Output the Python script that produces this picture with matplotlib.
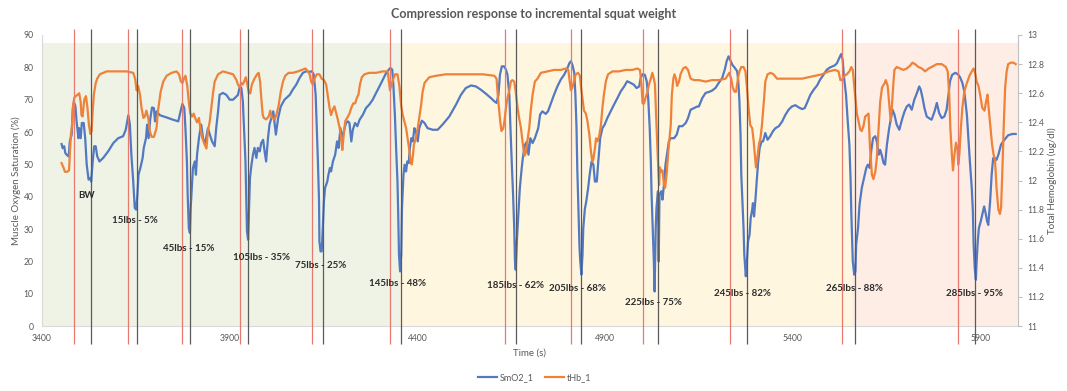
import matplotlib
matplotlib.use('Agg')
import matplotlib.pyplot as plt
import numpy as np
from matplotlib.ticker import FuncFormatter

plt.rcParams['font.family'] = ['Lato', 'DejaVu Sans']

# SmO2 (%) vs time (s)
smo2_t = [3452, 3455, 3459, 3462, 3467, 3471, 3474, 3479, 3482, 3485,
          3489, 3492, 3497, 3499, 3503, 3506, 3511, 3515, 3519, 3524,
          3528, 3531, 3535, 3539, 3543, 3547, 3553, 3563, 3576, 3590,
          3603, 3616, 3623, 3630, 3634, 3638, 3643, 3647, 3651, 3654,
          3657, 3662, 3668, 3671, 3677, 3680, 3684, 3688, 3693, 3698,
          3701, 3705, 3714, 3732, 3749, 3763, 3769, 3774, 3779, 3782,
          3786, 3788, 3791, 3794, 3796, 3799, 3802, 3807, 3810, 3813,
          3818, 3824, 3829, 3834,
          3842, 3847, 3853, 3860, 3864, 3869, 3873, 3882, 3891, 3900,
          3909, 3918, 3922, 3927, 3931, 3935, 3938, 3942, 3944, 3946,
          3949, 3951, 3954, 3958, 3962, 3966, 3971, 3975, 3980, 3984,
          3989, 3993, 3997, 4002, 4006, 4011, 4016, 4020, 4023, 4029,
          4036, 4046, 4060, 4068, 4077, 4086, 4095, 4104, 4113, 4119,
          4124, 4129, 4132, 4135, 4138, 4139, 4142, 4145, 4148, 4151,
          4154, 4160, 4163, 4167, 4170, 4175, 4181, 4186, 4190, 4195,
          4200, 4206, 4210, 4215, 4219, 4224, 4228, 4234, 4240, 4246,
          4255, 4263,
          4272, 4281, 4290, 4299, 4308, 4317, 4324, 4328, 4333, 4336,
          4340, 4343, 4347, 4349, 4351, 4354, 4357, 4359, 4363, 4366,
          4370, 4373, 4377, 4380, 4384, 4388, 4392, 4396, 4401, 4405,
          4412, 4419, 4427, 4441, 4454, 4467, 4485, 4503, 4516, 4529,
          4543, 4556, 4569, 4583, 4596, 4605, 4611, 4616, 4620, 4625,
          4631, 4636, 4640, 4645, 4648, 4652, 4655, 4658, 4660, 4662,
          4665, 4669, 4673, 4678, 4682, 4687, 4692, 4696, 4701, 4707,
          4713,
          4722, 4727, 4733, 4742, 4748, 4756, 4764, 4773, 4782, 4791,
          4800, 4805, 4809, 4813, 4818, 4821, 4824, 4826, 4829, 4832,
          4834, 4837, 4840, 4842, 4846, 4850, 4855, 4859, 4864, 4869,
          4873, 4878, 4882, 4887, 4893, 4899, 4906, 4915, 4924, 4933,
          4942, 4951, 4959, 4968, 4977, 4984, 4991, 4995, 5000, 5006,
          5011, 5015, 5019, 5022, 5024, 5027, 5030, 5032, 5035, 5037,
          5041, 5043, 5045, 5050, 5053, 5057, 5061, 5066, 5070, 5075,
          5084, 5091, 5097, 5106, 5115, 5121, 5128, 5137, 5146,
          5150, 5159, 5168, 5177, 5185, 5194, 5203, 5212, 5219, 5224,
          5229, 5233, 5239, 5246, 5252, 5255, 5258, 5261, 5263, 5266,
          5269, 5271, 5275, 5278, 5281, 5285, 5288, 5292, 5294, 5297,
          5301, 5304, 5308, 5312, 5317, 5321, 5327, 5333, 5340, 5347,
          5354, 5363, 5372, 5380, 5389, 5398, 5407, 5416, 5425, 5432,
          5438, 5447, 5456, 5465, 5473, 5482, 5491, 5500, 5512, 5518,
          5524, 5529, 5533, 5536, 5542, 5546, 5551, 5554, 5556, 5558,
          5560, 5564, 5567, 5569, 5574, 5578, 5584, 5590, 5596, 5600,
          5605, 5609, 5614, 5620, 5624, 5629, 5633, 5638, 5642, 5646,
          5651, 5657, 5662, 5666, 5671, 5677, 5684, 5691, 5698, 5704,
          5710, 5717, 5724, 5731, 5737, 5741, 5746, 5751, 5757, 5763,
          5770, 5778, 5784, 5790, 5797, 5804, 5810, 5815, 5819, 5825,
          5833, 5840, 5846, 5852, 5857, 5864, 5868, 5872, 5877, 5880,
          5882, 5885, 5888, 5890, 5893, 5896, 5901, 5905, 5910, 5914,
          5918, 5921, 5926, 5930, 5934, 5939, 5943, 5948, 5955, 5964,
          5974, 5985, 5994]
smo2 = [56.3, 55.0, 55.6, 53.5, 52.8, 52.5, 57.1, 59.2, 67.4, 69.3,
        67.9, 63.3, 58.1, 61.2, 58.1, 62.8, 62.8, 58.1, 49.9, 45.3,
        45.8, 44.7, 50.9, 55.6, 55.6, 52.5, 50.9, 52.0, 54.0, 56.6,
        58.1, 58.7, 60.7, 65.2, 62.3, 53.0, 44.7, 36.5, 36.0, 40.6,
        46.8, 48.9, 52.0, 55.1, 58.1, 62.3, 58.1, 63.8, 67.6, 67.4,
        63.3, 66.4, 65.2, 64.5, 63.8, 63.3, 66.4, 68.7, 67.4, 61.2,
        50.9, 40.6, 30.3, 28.8, 36.5, 42.7, 48.9, 50.9, 46.8, 53.0,
        58.1, 62.3, 58.1, 56.1,
        61.2, 59.2, 57.1, 55.6, 61.2, 66.4, 71.5, 72.1, 71.5, 70.0,
        70.0, 71.0, 71.5, 74.1, 73.6, 69.5, 61.2, 50.9, 40.6, 29.3,
        26.7, 34.4, 45.8, 49.9, 53.0, 55.1, 52.0, 55.1, 54.0, 56.6,
        57.6, 54.0, 50.9, 58.1, 62.3, 64.3, 66.4, 62.3, 59.2, 64.3,
        67.9, 70.0, 71.5, 73.1, 74.6, 76.7, 78.3, 78.8, 78.6, 78.8,
        77.7, 71.5, 61.2, 50.9, 38.6, 26.2, 23.1, 23.1, 30.3, 38.6,
        42.7, 44.7, 46.8, 48.9, 47.8, 50.9, 53.0, 57.1, 55.1, 61.2,
        58.1, 61.2, 62.8, 63.3, 62.8, 57.1, 60.7, 62.8, 61.8, 63.8,
        65.4, 67.4,
        68.5, 70.0, 72.1, 74.1, 76.2, 78.3, 79.3, 79.8, 79.3, 74.6,
        65.4, 56.1, 44.7, 34.4, 22.1, 16.9, 22.1, 36.5, 46.8, 49.9,
        47.8, 50.9, 50.4, 55.1, 58.1, 57.1, 61.2, 60.2, 57.1, 61.2,
        63.5, 62.8, 61.2, 60.7, 60.7, 62.3, 64.8, 68.5, 71.5, 73.6,
        74.4, 74.1, 73.1, 71.8, 70.5, 69.5, 69.0, 71.5, 77.7, 80.3,
        80.3, 79.3, 77.7, 71.5, 61.2, 48.9, 40.6, 30.3, 20.0, 17.4,
        26.2, 34.4, 42.7, 48.9, 53.0, 56.1, 57.1, 53.0, 58.1, 56.6,
        58.1,
        61.2, 65.4, 66.4, 65.6, 66.4, 69.0, 71.5, 74.1, 76.2, 77.7,
        79.8, 81.3, 81.9, 80.8, 78.3, 71.5, 61.2, 48.9, 36.5, 24.1,
        20.0, 15.9, 22.1, 30.3, 36.0, 38.6, 42.7, 46.8, 50.9, 49.9,
        44.7, 44.7, 50.9, 58.1, 61.2, 62.3, 64.3, 66.4, 68.5, 70.5,
        72.6, 74.1, 75.7, 75.2, 74.6, 73.6, 74.1, 76.7, 77.9, 77.7,
        75.7, 70.5, 61.2, 50.9, 40.6, 30.3, 20.0, 10.7, 30.3, 36.5,
        41.7, 20.0, 40.6, 41.7, 39.1, 43.7, 49.9, 54.0, 57.1, 58.1,
        58.1, 59.2, 61.8, 61.8, 62.8, 64.3, 66.9, 67.4, 67.9,
        67.9, 70.5, 72.1, 72.4, 72.8, 73.6, 75.2, 76.7, 79.3, 81.9,
        83.4, 82.4, 80.8, 79.8, 78.8, 75.7, 69.5, 59.2, 46.8, 38.6,
        30.3, 22.1, 15.4, 20.0, 26.2, 28.2, 33.4, 36.0, 38.0, 33.9,
        39.6, 44.7, 50.9, 55.1, 57.1, 57.1, 59.7, 57.6, 58.7, 60.2,
        61.2, 61.8, 63.3, 65.2, 66.9, 67.9, 68.3, 67.6, 67.1, 67.4,
        69.0, 71.5, 73.1, 74.4, 76.2, 77.7, 79.3, 80.0, 80.6, 81.3,
        82.9, 84.1, 82.4, 77.7, 71.5, 64.3, 56.1, 45.8, 35.5, 27.2,
        20.0, 15.9, 16.9, 25.2, 30.3, 37.5, 42.7, 45.8, 48.9, 49.9,
        48.9, 54.0, 58.1, 58.7, 57.1, 53.0, 54.5, 52.5, 50.4, 49.9,
        56.1, 61.2, 64.3, 66.9, 65.4, 62.3, 60.7, 63.8, 66.4, 67.9,
        68.5, 66.9, 70.0, 72.1, 74.1, 73.1, 70.5, 67.4, 64.8, 64.3,
        63.8, 66.4, 69.0, 65.9, 64.3, 64.8, 66.9, 71.5, 75.7, 77.7,
        78.3, 77.9, 76.9, 75.2, 72.6, 65.4, 58.1, 50.9, 42.7, 35.5,
        25.2, 17.9, 14.3, 20.0, 26.2, 30.3, 32.4, 34.4, 37.0, 34.9,
        32.4, 31.3, 38.6, 46.8, 51.9, 51.9, 51.4, 53.0, 56.1, 57.6,
        59.0, 59.4, 59.4]

# Total haemoglobin (ug/dl) vs time (s)
thb_t = [3452, 3457, 3461, 3467, 3472, 3474, 3477, 3480, 3483, 3486,
         3490, 3495, 3499, 3503, 3505, 3508, 3511, 3513, 3517, 3521,
         3525, 3529, 3532, 3535, 3538, 3543, 3547, 3554, 3563, 3572,
         3599, 3625, 3643, 3648, 3652, 3656, 3661, 3665, 3670, 3674,
         3678, 3683, 3687, 3692, 3698, 3705, 3709, 3716, 3723, 3732,
         3745, 3758, 3765, 3770, 3774, 3778, 3782, 3787, 3791, 3795,
         3800, 3804, 3808, 3813, 3818, 3822, 3827, 3833,
         3838, 3842, 3847, 3851, 3856, 3860, 3869, 3882, 3896, 3909,
         3918, 3922, 3927, 3931, 3935, 3940, 3943, 3947, 3951, 3955,
         3959, 3966, 3973, 3977, 3981, 3984, 3988, 3991, 3997, 4004,
         4008, 4013, 4020, 4024, 4030, 4036, 4042, 4048, 4057, 4068,
         4082, 4092, 4102, 4108, 4113, 4117, 4121, 4126, 4132, 4139,
         4145, 4151, 4157, 4161, 4166, 4170, 4175, 4179, 4184, 4188,
         4193, 4197, 4200, 4204, 4208, 4213, 4219, 4224, 4229, 4234,
         4239, 4243, 4247, 4252, 4259,
         4272, 4290, 4308, 4321, 4324, 4327, 4331, 4336, 4341, 4347,
         4352, 4357, 4361, 4365, 4370, 4374, 4379, 4382, 4385, 4388,
         4391, 4396, 4401, 4405, 4410, 4414, 4419, 4425, 4432, 4450,
         4476, 4503, 4538, 4574, 4605, 4611, 4614, 4618, 4621, 4624,
         4629, 4632, 4636, 4640, 4645, 4649, 4653, 4658, 4662, 4667,
         4671, 4676, 4680, 4685, 4689, 4693, 4698, 4702, 4707, 4713,
         4720, 4729, 4747, 4764, 4782, 4795, 4802, 4805, 4809, 4813,
         4818, 4822, 4828, 4833, 4836, 4840, 4844, 4849, 4853, 4858,
         4862, 4866, 4869, 4873, 4876, 4880, 4884, 4889, 4893, 4897,
         4902, 4908, 4920, 4937, 4955, 4973, 4986, 4993, 4997, 5000,
         5004, 5008, 5013, 5017, 5022, 5026, 5030, 5033, 5037, 5041,
         5044, 5046, 5050, 5053, 5057, 5060, 5064, 5068, 5071, 5075,
         5078, 5082, 5085, 5089, 5092, 5097, 5101, 5108, 5115, 5121,
         5128, 5137,
         5150, 5168, 5185, 5203, 5221, 5231, 5236, 5240, 5245, 5249,
         5254, 5258, 5263, 5269, 5274, 5278, 5283, 5287, 5292, 5296,
         5299, 5302, 5306, 5310, 5314, 5318, 5323, 5327, 5333, 5341,
         5349, 5358, 5372, 5389, 5407, 5425, 5442, 5460, 5478, 5496,
         5513, 5522, 5527, 5531, 5538, 5544, 5551, 5556, 5560, 5563,
         5567, 5571, 5575, 5580, 5584, 5589, 5593, 5598, 5602,
         5606, 5611, 5615, 5620, 5624, 5629, 5633, 5638, 5645, 5648,
         5653, 5657, 5661, 5664, 5668, 5671, 5677, 5686, 5695, 5704,
         5713, 5719, 5726, 5735, 5744, 5753, 5762, 5770, 5784, 5797,
         5808, 5813, 5817, 5820, 5824, 5827, 5831, 5835, 5839, 5841,
         5844, 5848, 5852, 5857, 5864, 5871, 5877, 5882, 5886, 5890,
         5895, 5900, 5905, 5911, 5915, 5919, 5922, 5927, 5931, 5935,
         5939, 5943, 5948, 5952, 5955, 5958, 5962, 5966, 5970, 5974,
         5981, 5988, 5994]
thb = [12.12, 12.09, 12.06, 12.06, 12.07, 12.18, 12.32, 12.38, 12.52, 12.57,
       12.58, 12.59, 12.60, 12.54, 12.45, 12.44, 12.52, 12.56, 12.58, 12.50,
       12.38, 12.32, 12.34, 12.48, 12.59, 12.67, 12.70, 12.73, 12.74, 12.75,
       12.75, 12.75, 12.74, 12.70, 12.62, 12.65, 12.59, 12.50, 12.43, 12.44,
       12.48, 12.43, 12.34, 12.30, 12.30, 12.36, 12.48, 12.61, 12.68, 12.72,
       12.74, 12.75, 12.73, 12.68, 12.67, 12.70, 12.72, 12.65, 12.54, 12.46,
       12.44, 12.46, 12.43, 12.40, 12.43, 12.36, 12.29, 12.25,
       12.22, 12.34, 12.41, 12.50, 12.61, 12.68, 12.73, 12.75, 12.74, 12.73,
       12.69, 12.66, 12.64, 12.67, 12.66, 12.69, 12.71, 12.66, 12.60, 12.60,
       12.66, 12.70, 12.73, 12.74, 12.68, 12.57, 12.45, 12.43, 12.42, 12.44,
       12.48, 12.43, 12.42, 12.45, 12.51, 12.61, 12.68, 12.72, 12.74, 12.74,
       12.75, 12.76, 12.77, 12.75, 12.73, 12.68, 12.66, 12.70, 12.73, 12.73,
       12.70, 12.69, 12.66, 12.59, 12.50, 12.45, 12.49, 12.51, 12.46, 12.42,
       12.36, 12.29, 12.21, 12.32, 12.41, 12.43, 12.46, 12.50, 12.53, 12.53,
       12.57, 12.59, 12.66, 12.71, 12.73,
       12.74, 12.74, 12.75, 12.75, 12.68, 12.62, 12.66, 12.70, 12.73, 12.73,
       12.65, 12.51, 12.45, 12.41, 12.36, 12.29, 12.20, 12.13, 12.11, 12.17,
       12.25, 12.29, 12.36, 12.43, 12.52, 12.61, 12.67, 12.69, 12.71, 12.72,
       12.73, 12.73, 12.73, 12.73, 12.72, 12.70, 12.59, 12.48, 12.40, 12.34,
       12.36, 12.41, 12.50, 12.57, 12.62, 12.68, 12.69, 12.68, 12.61, 12.50,
       12.43, 12.36, 12.27, 12.17, 12.19, 12.27, 12.36, 12.48, 12.59, 12.68,
       12.70, 12.74, 12.75, 12.76, 12.76, 12.77, 12.76, 12.70, 12.62, 12.64,
       12.69, 12.73, 12.74, 12.72, 12.64, 12.56, 12.48, 12.46, 12.41, 12.32,
       12.21, 12.13, 12.15, 12.22, 12.29, 12.27, 12.30, 12.38, 12.50, 12.59,
       12.68, 12.73, 12.75, 12.75, 12.76, 12.76, 12.77, 12.76, 12.66, 12.53,
       12.53, 12.57, 12.61, 12.66, 12.70, 12.74, 12.70, 12.66, 12.38, 12.13,
       11.97, 12.09, 12.06, 12.07, 11.97, 11.95, 12.04, 12.18, 12.27, 12.38,
       12.59, 12.70, 12.73, 12.70, 12.65, 12.68, 12.73, 12.77, 12.78, 12.76,
       12.70, 12.69,
       12.69, 12.68, 12.69, 12.69, 12.70, 12.74, 12.70, 12.64, 12.61, 12.61,
       12.70, 12.75, 12.78, 12.78, 12.75, 12.64, 12.48, 12.38, 12.36, 12.27,
       12.18, 12.09, 12.16, 12.25, 12.29, 12.38, 12.54, 12.68, 12.73, 12.74,
       12.73, 12.70, 12.70, 12.70, 12.70, 12.70, 12.71, 12.72, 12.73, 12.75,
       12.76, 12.75, 12.69, 12.69, 12.72, 12.73, 12.75, 12.78, 12.76, 12.68,
       12.57, 12.46, 12.41, 12.35, 12.34, 12.38, 12.44, 12.45, 12.46,
       12.22, 12.04, 12.01, 12.06, 12.15, 12.36, 12.54, 12.64, 12.67, 12.69,
       12.65, 12.53, 12.41, 12.50, 12.66, 12.76, 12.78, 12.77, 12.76, 12.77,
       12.79, 12.81, 12.80, 12.78, 12.77, 12.75, 12.77, 12.78, 12.80, 12.80,
       12.78, 12.75, 12.59, 12.36, 12.18, 12.07, 12.18, 12.26, 12.22, 12.11,
       12.18, 12.36, 12.50, 12.61, 12.67, 12.72, 12.75, 12.77, 12.74, 12.68,
       12.65, 12.58, 12.50, 12.48, 12.54, 12.59, 12.50, 12.36, 12.25, 12.18,
       12.14, 11.95, 11.80, 11.77, 11.81, 12.02, 12.36, 12.64, 12.75, 12.80,
       12.81, 12.81, 12.80]

# markers: start of set (red) and end of set (grey)
set_start = [3486, 3630, 3772, 3927, 4119, 4327, 4633, 4809, 5002, 5232, 5531, 5840]
set_end = [3531, 3653, 3795, 3950, 4148, 4356, 4662, 4837, 5041, 5279, 5567, 5886]

# set labels and where they sit (time, SmO2)
set_labels = ['BW', '15lbs - 5%', '45lbs - 15%', '105lbs - 35%', '75lbs - 25%',
              '145lbs - 48%', '185lbs - 62%', '205lbs - 68%', '225lbs - 75%',
              '245lbs - 82%', '265lbs - 88%', '285lbs - 95%']
label_t = [3518, 3647, 3791, 3985, 4142, 4348, 4662, 4826, 5030, 5267, 5565, 5884]
label_y = [40.4, 32.8, 24.1, 21.1, 18.7, 13.3, 12.7, 11.6, 7.4, 10.1, 11.5, 10.1]

# background phases
phase_start = [3400, 4354, 5559]
phase_end = [4354, 5559, 6000]
phase_colors = ['#eef3e6', '#fff6e0', '#fdede5']

blue = '#5279c1'
orange = '#ef8239'
grey = '#595959'

assert len(smo2_t) == len(smo2) and len(thb_t) == len(thb)

fig, ax = plt.subplots(figsize=(10.67, 3.91), dpi=100)
fig.subplots_adjust(left=0.0394, right=0.954, bottom=0.166, top=0.9105)
ax2 = ax.twinx()

for x0, x1, c in zip(phase_start, phase_end, phase_colors):
    ax.axvspan(x0, x1, ymin=0, ymax=87.5 / 90, color=c, lw=0, zorder=0)

l1, = ax.plot(smo2_t, smo2, color=blue, lw=1.6, label='SmO2_1', zorder=3)
l2, = ax2.plot(thb_t, thb, color=orange, lw=1.6, label='tHb_1', zorder=3)

ax2.vlines(set_start, -0.06, 1.02, colors='#e8796f', lw=0.9,
           transform=ax2.get_xaxis_transform(), clip_on=False, zorder=5)
ax2.vlines(set_end, -0.06, 1.02, colors='#5a5a5a', lw=0.9,
           transform=ax2.get_xaxis_transform(), clip_on=False, zorder=5)

for s, x, y in zip(set_labels, label_t, label_y):
    ax2.text(x, y, s, transform=ax.transData, ha='center', va='center',
             fontsize=7, fontweight='bold', color='#2b2b2b', zorder=6)

ax.set_xlim(3400, 6000)
ax.set_ylim(0, 90)
ax2.set_ylim(11, 13)
ax.set_xticks([3400, 3900, 4400, 4900, 5400, 5900])
ax.set_yticks(np.arange(0, 91, 10))
ax2.set_yticks(np.arange(11, 13.01, 0.2))
ax2.yaxis.set_major_formatter(FuncFormatter(lambda v, p: f'{round(v, 1):g}'))

for a in (ax, ax2):
    for sp in a.spines.values():
        sp.set_visible(False)
ax.spines['left'].set_visible(True)
ax.spines['bottom'].set_visible(True)
ax2.spines['right'].set_visible(True)
ax.spines['left'].set_color('#d9d9d9')
ax.spines['bottom'].set_color('#d9d9d9')
ax2.spines['right'].set_color('#bfbfbf')

ax.tick_params(axis='both', length=0, labelsize=6.2, labelcolor=grey, pad=6)
ax2.tick_params(axis='y', length=3, color='#bfbfbf', labelsize=6.2, labelcolor=grey, pad=4)

fig.text(0.5, 0.964, 'Compression response to incremental squat weight',
         ha='center', va='center', fontsize=9, fontweight='bold', color=grey)
fig.text(0.015, 0.538, 'Muscle Oxygen Saturation (%)', rotation=90,
         ha='center', va='center', fontsize=7, color=grey)
fig.text(0.986, 0.538, 'Total Hemoglobin (ug/dl)', rotation=90,
         ha='center', va='center', fontsize=7, color=grey)
fig.text(0.496, 0.098, 'Time (s)', ha='center', va='center', fontsize=7, color=grey)

fig.legend([l1, l2], ['SmO2_1', 'tHb_1'], loc='center', bbox_to_anchor=(0.501, 0.033),
           ncol=2, frameon=False, fontsize=6.5, handlelength=2.1, handletextpad=0.3,
           columnspacing=1.2, labelcolor=grey)

fig.savefig('out.png', dpi=100)
